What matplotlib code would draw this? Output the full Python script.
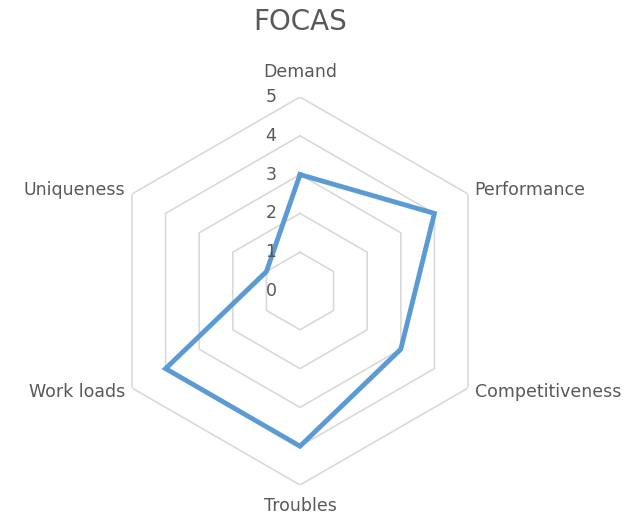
import numpy as np
import matplotlib
matplotlib.use("Agg")
import matplotlib.pyplot as plt

categories = ["Demand", "Performance", "Competitiveness", "Troubles", "Work loads", "Uniqueness"]
values = [3, 4, 3, 4, 4, 1]
rticks = [0, 1, 2, 3, 4, 5]

txt = "#595959"
grid = "#d9d9d9"
blue = "#5b9bd5"

fig = plt.figure(figsize=(6.44, 5.17), dpi=100)
ax = fig.add_axes([0.1646, 0.0619, 0.6025, 0.7505], projection="polar")
ax.set_theta_zero_location("N")
ax.set_theta_direction(-1)
ax.set_ylim(0, 5)
ax.grid(False)
ax.spines["polar"].set_visible(False)
ax.set_xticks([])
ax.set_yticks([])

n = len(categories)
theta = np.deg2rad(np.arange(n) * 360 / n)
theta_c = np.append(theta, theta[0])

# hexagon gridlines
for r in rticks[1:]:
    ax.plot(theta_c, [r] * (n + 1), color=grid, lw=1.2, zorder=1)

vals = values + values[:1]
ax.plot(theta_c, vals, color=blue, lw=3.5, zorder=3, solid_joinstyle="miter")

# radial tick labels left of the vertical axis
for r in rticks:
    ax.annotate(str(r), xy=(0, r), xytext=(-29, 0), textcoords="offset pixels",
                ha="center", va="center", fontsize=12.5, color=txt)

# category labels
align = [("center", "bottom", 5.4), ("left", "center", 5.2), ("left", "center", 5.2),
         ("center", "top", 5.3), ("right", "center", 5.2), ("right", "center", 5.2)]
for t, lab, (ha, va, rr) in zip(theta, categories, align):
    ax.text(t, rr, lab, ha=ha, va=va, fontsize=12.5, color=txt)

fig.text(0.466, 0.957, "FOCAS", ha="center", va="center", fontsize=20, color=txt)

fig.savefig("out.png", dpi=100)
